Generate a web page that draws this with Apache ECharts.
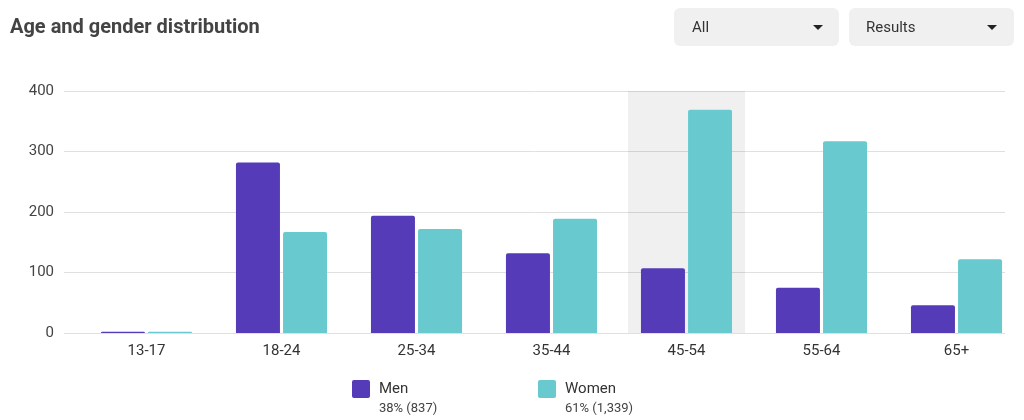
<!DOCTYPE html>
<html><head><meta charset="utf-8">
<script src="https://cdn.jsdelivr.net/npm/echarts@6/dist/echarts.min.js"></script>
<style>html,body{margin:0;padding:0;background:#fff}#c{width:1024px;height:420px}</style>
</head><body><div id="c"></div>
<script>
const categories = ['13-17','18-24','25-34','35-44','45-54','55-64','65+'];
const men = [2, 282, 194, 132, 107, 75, 46];
const women = [2, 167, 172, 189, 369, 317, 122];
const highlight = [null, null, null, null, 400, null, null];
const yTicks = [0, 100, 200, 300, 400];
const legendItems = [
  {name: 'Men', sub: '38% (837)'},
  {name: 'Women', sub: '61% (1,339)'}
];
const MEN_C = '#553bb7', WOMEN_C = '#68cace';
const FONT = 'Roboto, "Noto Sans", sans-serif';

const chart = echarts.init(document.getElementById('c'), null, {renderer: 'canvas'});
const legendX = [352, 538];
const graphics = [
  {type:'text', x:10, y:28, style:{text:'Age and gender distribution', fontSize:20, fontWeight:'bold', fill:'#444', fontFamily:FONT, verticalAlign:'middle'}},
  {type:'rect', shape:{x:674, y:8, width:165, height:38, r:6}, style:{fill:'#f0f0f0'}},
  {type:'text', x:692, y:28, style:{text:'All', fontSize:15, fill:'#333', fontFamily:FONT, verticalAlign:'middle'}},
  {type:'polygon', shape:{points:[[813,25],[823,25],[818,30]]}, style:{fill:'#222'}},
  {type:'rect', shape:{x:849, y:8, width:165, height:38, r:6}, style:{fill:'#f0f0f0'}},
  {type:'text', x:866, y:28, style:{text:'Results', fontSize:15, fill:'#333', fontFamily:FONT, verticalAlign:'middle'}},
  {type:'polygon', shape:{points:[[987,25],[997,25],[992,30]]}, style:{fill:'#222'}}
];
legendItems.forEach((it, i) => {
  const x = legendX[i];
  graphics.push({type:'rect', shape:{x:x, y:380, width:18, height:18, r:2}, style:{fill: i===0?MEN_C:WOMEN_C}});
  graphics.push({type:'text', x:x+27, y:389, style:{text:it.name, fontSize:15, fill:'#333', fontFamily:FONT, verticalAlign:'middle'}});
  graphics.push({type:'text', x:x+27, y:409, style:{text:it.sub, fontSize:13, fill:'#444', fontFamily:FONT, verticalAlign:'middle'}});
});

chart.setOption({
  animation: false,
  textStyle: {fontFamily: FONT},
  grid: [
    {left:64, right:19, top:91, bottom:87},
    {left:79, width:950, top:91, bottom:87}
  ],
  xAxis: [
    {gridIndex:0, type:'category', data:categories, show:false},
    {gridIndex:1, type:'category', data:categories, axisLine:{show:false}, axisTick:{show:false},
     axisLabel:{color:'#333', fontSize:15, margin:11}},
    {gridIndex:1, type:'category', data:categories, show:false}
  ],
  yAxis: [
    {gridIndex:0, type:'value', min:yTicks[0], max:yTicks[yTicks.length-1], interval:100,
     axisLine:{show:false}, axisTick:{show:false},
     axisLabel:{color:'#444', fontSize:15, margin:10},
     splitLine:{lineStyle:{color:'#e0e0e0', width:1}}},
    {gridIndex:1, type:'value', min:0, max:400, show:false, splitLine:{show:false}}
  ],
  series: [
    {type:'bar', xAxisIndex:2, yAxisIndex:1, data:highlight, barWidth:117, silent:true, z:1,
     itemStyle:{color:'rgba(0,0,0,0.058)'}},
    {name:'Men', type:'bar', xAxisIndex:1, yAxisIndex:1, data:men, barWidth:44, barGap:'7%', z:3,
     itemStyle:{color:MEN_C, borderRadius:[2,2,0,0]}},
    {name:'Women', type:'bar', xAxisIndex:1, yAxisIndex:1, data:women, barWidth:44, barGap:'7%', z:3,
     itemStyle:{color:WOMEN_C, borderRadius:[2,2,0,0]}}
  ],
  graphic: graphics
});
</script></body></html>
